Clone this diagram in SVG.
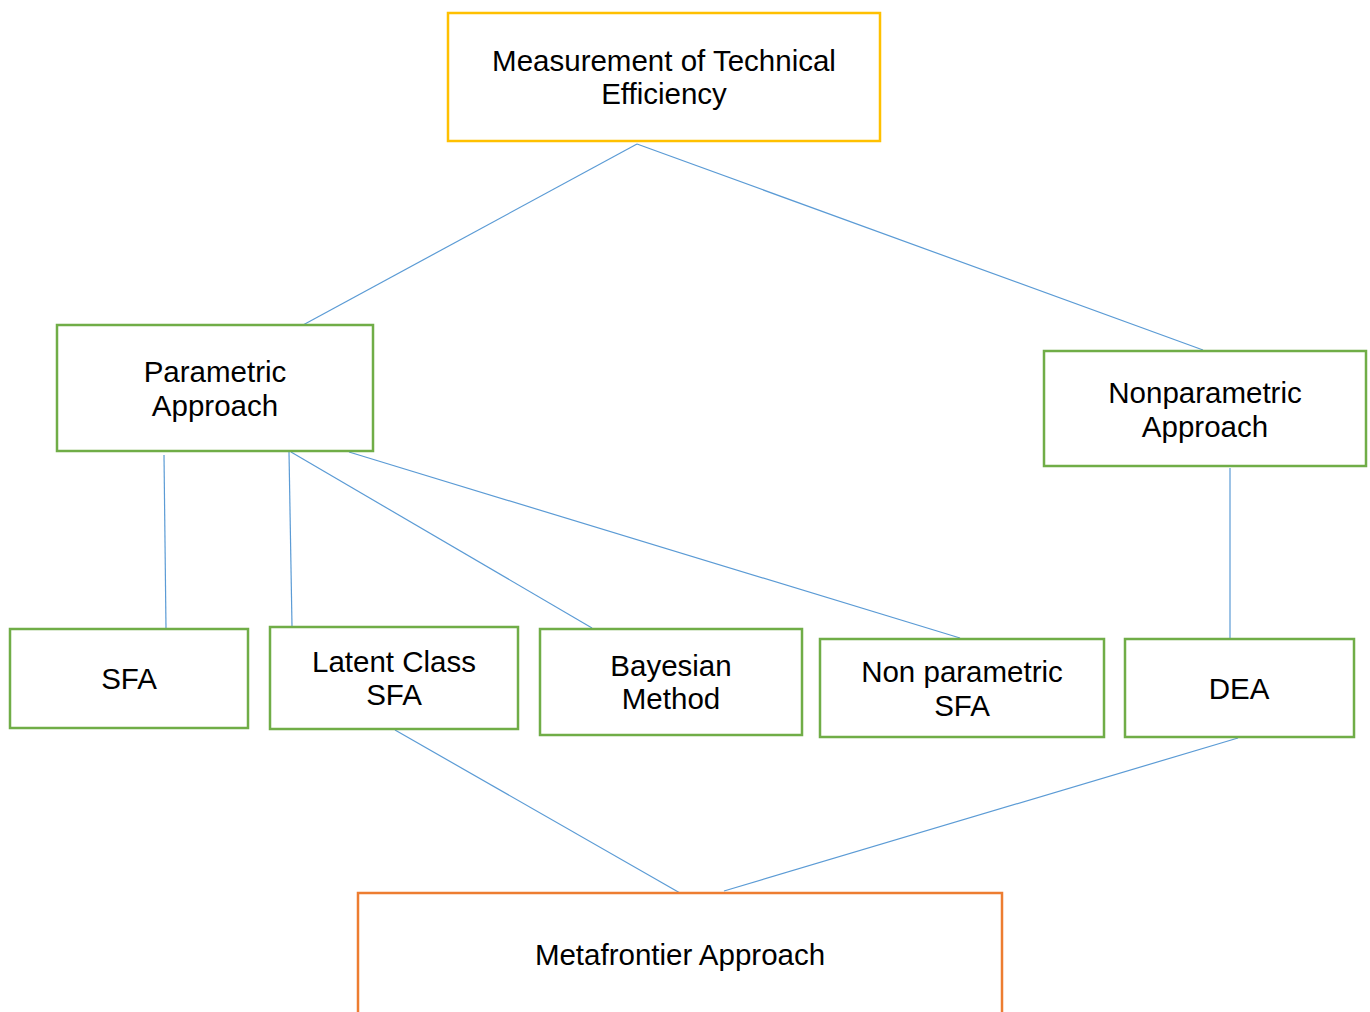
<svg xmlns="http://www.w3.org/2000/svg" width="1370" height="1012" viewBox="0 0 1370 1012">
<style>
.box{fill:#fff;stroke-width:2.5}
.g{stroke:#70AD47}
.y{stroke:#FFC000}
.o{stroke:#ED7D31}
text{font-family:"Liberation Sans",Arial,sans-serif;font-size:29.5px;fill:#000;text-anchor:middle}
#connectors line{stroke:#5B9BD5;stroke-width:1.2}
</style>
<rect width="1370" height="1012" fill="#fff"/>
<g id="connectors">
<line x1="637" y1="144" x2="303" y2="325"/>
<line x1="637" y1="144" x2="1203" y2="350"/>
<line x1="164" y1="455" x2="166" y2="628"/>
<line x1="289" y1="452" x2="292" y2="626"/>
<line x1="291" y1="452" x2="592" y2="628"/>
<line x1="349" y1="452" x2="960" y2="638"/>
<line x1="1230" y1="468" x2="1230" y2="638"/>
<line x1="395" y1="730" x2="680" y2="893"/>
<line x1="1238" y1="738" x2="724" y2="891"/>
</g>
<g id="measurement"><rect class="box y" x="448" y="13" width="432" height="128"/><text x="664" y="71">Measurement of Technical</text><text x="664" y="104">Efficiency</text></g>
<g id="parametric"><rect class="box g" x="57" y="325" width="316" height="126"/><text x="215" y="382">Parametric</text><text x="215" y="416">Approach</text></g>
<g id="nonparametric"><rect class="box g" x="1044" y="351" width="322" height="115"/><text x="1205" y="403">Nonparametric</text><text x="1205" y="437">Approach</text></g>
<g id="sfa"><rect class="box g" x="10" y="629" width="238" height="99"/><text x="129" y="689">SFA</text></g>
<g id="latent"><rect class="box g" x="270" y="627" width="248" height="102"/><text x="394" y="672">Latent Class</text><text x="394" y="705">SFA</text></g>
<g id="bayesian"><rect class="box g" x="540" y="629" width="262" height="106"/><text x="671" y="676">Bayesian</text><text x="671" y="709">Method</text></g>
<g id="npsfa"><rect class="box g" x="820" y="639" width="284" height="98"/><text x="962" y="682">Non parametric</text><text x="962" y="716">SFA</text></g>
<g id="dea"><rect class="box g" x="1125" y="639" width="229" height="98"/><text x="1239" y="699">DEA</text></g>
<g id="metafrontier"><rect class="box o" x="358" y="893" width="644" height="140"/><text x="680" y="965">Metafrontier Approach</text></g>
</svg>
